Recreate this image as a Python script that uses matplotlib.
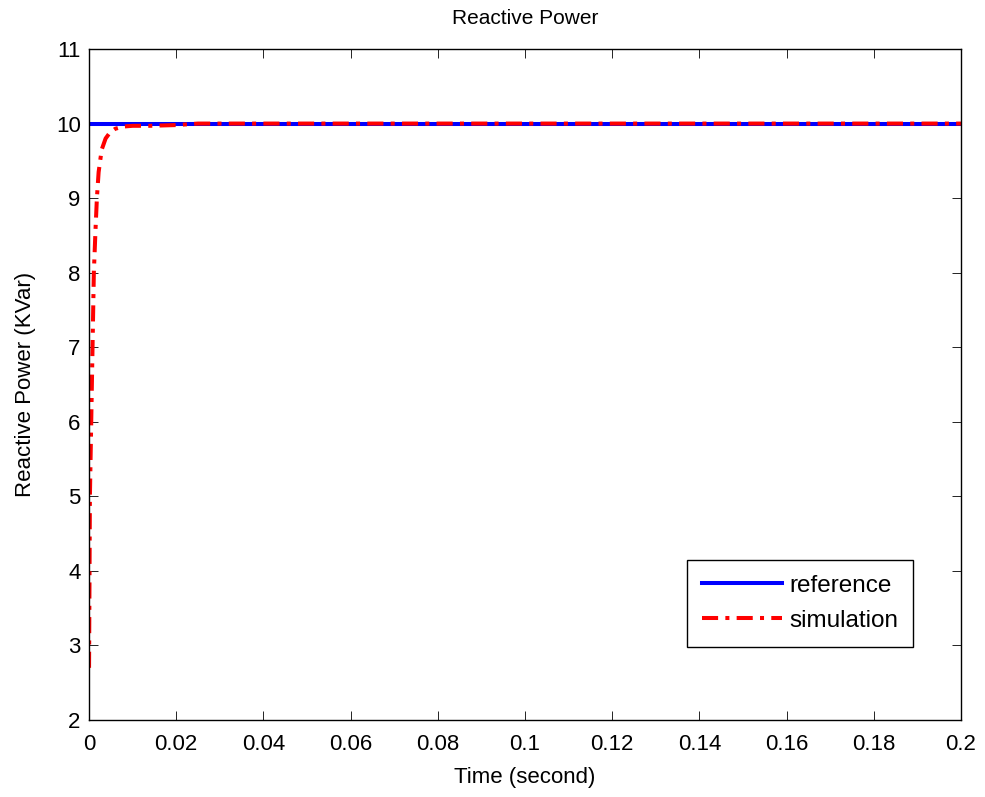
import matplotlib
matplotlib.use("Agg")
import matplotlib.pyplot as plt

plt.rcParams["font.family"] = ["Liberation Sans", "DejaVu Sans"]

# reference value
t_ref = [0.0, 0.2]
q_ref = [10.0, 10.0]

# simulated reactive power
t_sim = [0.0, 0.0001, 0.0002, 0.0005, 0.0008, 0.0011, 0.0015, 0.0018, 0.0022,
         0.0029, 0.0038, 0.0048, 0.006, 0.0078, 0.010, 0.014, 0.02, 0.025, 0.05, 0.2]
q_sim = [2.7, 3.8, 5.0, 6.0, 7.0, 8.0, 8.6, 9.0, 9.35,
         9.65, 9.8, 9.88, 9.93, 9.96, 9.97, 9.97, 9.98, 10.0, 10.0, 10.0]

fig = plt.figure(figsize=(9.85, 7.97), dpi=100)
ax = fig.add_axes([0.0904, 0.0966, 0.8852, 0.8419])

ax.plot(t_ref, q_ref, color="#0000ff", lw=2.9, label="reference")
ax.plot(t_sim, q_sim, color="#ff0000", lw=2.9, ls=(0, (4, 1.8, 1, 1.8)), label="simulation")

ax.set_xlim(0, 0.2)
ax.set_ylim(2, 11)
ax.set_xticks([0, 0.02, 0.04, 0.06, 0.08, 0.1, 0.12, 0.14, 0.16, 0.18, 0.2])
ax.set_xticklabels(["0", "0.02", "0.04", "0.06", "0.08", "0.1", "0.12", "0.14", "0.16", "0.18", "0.2"])
ax.set_yticks(range(2, 12))
ax.tick_params(direction="in", top=True, right=True, labelsize=16, length=6.5, width=0.6)
ax.tick_params(axis="x", pad=10)
ax.tick_params(axis="y", pad=6)
for s in ax.spines.values():
    s.set_linewidth(1.0)

ax.set_xlabel("Time (second)", fontsize=16, labelpad=9)
ax.set_ylabel("Reactive Power (KVar)", fontsize=16, labelpad=14)
ax.set_title("Reactive Power", fontsize=15, pad=18)

leg = ax.legend(loc="upper left", bbox_to_anchor=(0.686, 0.2385), fontsize=17.5,
                fancybox=False, edgecolor="black", framealpha=1,
                handlelength=3.3, handletextpad=0.3, borderpad=0.6,
                labelspacing=0.55, borderaxespad=0)
leg.get_frame().set_linewidth(1.0)

plt.savefig("out.png", dpi=100)
